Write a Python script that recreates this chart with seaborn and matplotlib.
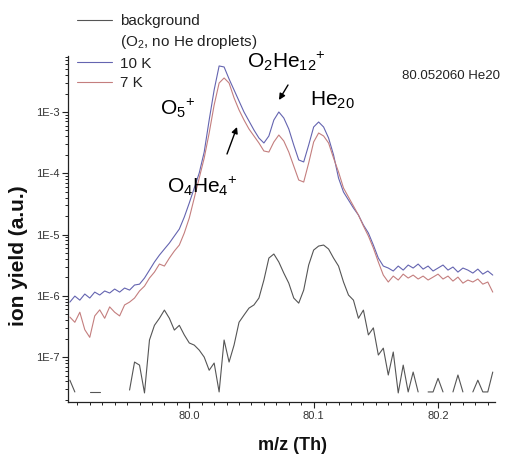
import numpy as np
import pandas as pd
import matplotlib
matplotlib.use("Agg")
import matplotlib.pyplot as plt
import matplotlib.patches as mpatches
import seaborn as sns
from matplotlib.ticker import FixedLocator, MultipleLocator, LogLocator, FuncFormatter, NullFormatter
from matplotlib.lines import Line2D

# ---------------- data ----------------
mz = np.round(np.arange(79.904, 80.2441, 0.004), 3)

yield_10K = [
    7.9e-7, 9.9e-7, 8.5e-7, 1.07e-6, 9.2e-7, 1.15e-6, 1.03e-6, 1.20e-6, 1.11e-6, 1.29e-6,
    1.15e-6, 1.34e-6, 1.24e-6, 1.50e-6, 1.55e-6, 1.95e-6, 2.63e-6, 3.56e-6, 4.62e-6, 5.80e-6,
    7.26e-6, 9.46e-6, 1.23e-5, 1.93e-5, 3.27e-5, 5.74e-5, 1.01e-4, 2.22e-4, 7.40e-4, 2.29e-3,
    5.64e-3, 5.43e-3, 3.46e-3, 2.29e-3, 1.51e-3, 1.00e-3, 7.13e-4, 5.08e-4, 3.76e-4, 3.12e-4,
    4.06e-4, 7.40e-4, 1.00e-3, 7.98e-4, 5.28e-4, 2.89e-4, 1.65e-4, 1.53e-4, 2.89e-4, 5.69e-4,
    6.87e-4, 5.69e-4, 3.76e-4, 1.99e-4, 8.36e-5, 4.94e-5, 3.66e-5, 2.71e-5, 2.08e-5, 1.43e-5,
    1.06e-5, 6.74e-6, 4.13e-6, 3.06e-6, 2.84e-6, 2.54e-6, 3.06e-6, 2.63e-6, 3.18e-6, 2.84e-6,
    3.30e-6, 2.73e-6, 3.06e-6, 2.54e-6, 2.84e-6, 3.18e-6, 2.63e-6, 2.95e-6, 2.44e-6, 2.84e-6,
    2.63e-6, 2.35e-6, 2.73e-6, 2.26e-6, 2.54e-6, 2.18e-6,
]

yield_7K = [
    4.5e-7, 3.7e-7, 5.4e-7, 2.8e-7, 2.1e-7, 4.7e-7, 5.9e-7, 4.3e-7, 6.6e-7, 5.4e-7,
    4.7e-7, 7.1e-7, 7.9e-7, 9.2e-7, 1.20e-6, 1.44e-6, 1.95e-6, 2.44e-6, 3.30e-6, 3.06e-6,
    4.13e-6, 5.38e-6, 6.74e-6, 1.06e-5, 1.86e-5, 3.94e-5, 8.36e-5, 1.77e-4, 4.54e-4, 1.30e-3,
    2.97e-3, 3.59e-3, 2.97e-3, 1.70e-3, 1.08e-3, 7.40e-4, 5.28e-4, 4.06e-4, 3.12e-4, 2.31e-4,
    2.22e-4, 3.24e-4, 4.21e-4, 3.36e-4, 2.22e-4, 1.31e-4, 7.76e-5, 7.19e-5, 1.47e-4, 3.24e-4,
    4.54e-4, 4.06e-4, 3.12e-4, 1.77e-4, 1.05e-4, 5.74e-5, 4.09e-5, 2.92e-5, 2.08e-5, 1.38e-5,
    9.46e-6, 6.02e-6, 3.56e-6, 2.18e-6, 1.68e-6, 2.10e-6, 1.81e-6, 2.26e-6, 1.95e-6, 2.18e-6,
    1.88e-6, 2.10e-6, 1.81e-6, 2.02e-6, 2.26e-6, 1.88e-6, 2.10e-6, 1.74e-6, 2.02e-6, 1.61e-6,
    1.81e-6, 1.68e-6, 1.88e-6, 1.55e-6, 1.68e-6, 1.15e-6,
]

nan = np.nan
yield_background = [
    4.2e-8, 2.7e-8, nan, nan, 2.7e-8, 2.7e-8, 2.7e-8, nan, nan, 2.7e-8,
    nan, nan, 2.9e-8, 8.3e-8, 7.4e-8, 2.6e-8, 1.9e-7, 3.3e-7, 4.3e-7, 5.85e-7,
    4.3e-7, 2.76e-7, 3.3e-7, 2.3e-7, 1.7e-7, 1.57e-7, 1.3e-7, 1.0e-7, 6.1e-8, 8.0e-8,
    2.7e-8, 1.9e-7, 8.3e-8, 1.57e-7, 3.7e-7, 4.85e-7, 6.3e-7, 7.1e-7, 9.2e-7, 1.81e-6,
    4.13e-6, 4.81e-6, 3.56e-6, 2.35e-6, 1.61e-6, 9.2e-7, 7.6e-7, 1.24e-6, 3.18e-6, 5.58e-6,
    6.49e-6, 6.74e-6, 5.80e-6, 4.13e-6, 3.06e-6, 1.68e-6, 1.03e-6, 8.5e-7, 4.3e-7, 5.85e-7,
    2.3e-7, 3.0e-7, 1.08e-7, 1.4e-7, 5.1e-8, 1.21e-7, 2.6e-8, 7.4e-8, 2.7e-8, 5.7e-8,
    2.7e-8, nan, 2.7e-8, 2.7e-8, 4.5e-8, 2.7e-8, nan, 2.7e-8, 5.1e-8, 2.7e-8,
    nan, 2.7e-8, 4.2e-8, 2.7e-8, 2.7e-8, 5.7e-8,
]

series_labels = ["background", "(O$_2$, no He droplets)", "10 K", "7 K"]
x_ticks = [80.0, 80.1, 80.2]

# ---------------- style ----------------
sns.set_style("ticks")
plt.rcParams['font.family'] = ['Liberation Sans', 'DejaVu Sans']
plt.rcParams['mathtext.fontset'] = 'custom'
plt.rcParams['mathtext.rm'] = 'Liberation Sans'
plt.rcParams['mathtext.it'] = 'Liberation Sans:italic'
plt.rcParams['mathtext.bf'] = 'Liberation Sans:bold'

W, H = 515, 457
fig = plt.figure(figsize=(W / 100, H / 100), dpi=100)
ax = fig.add_axes([68 / W, 1 - 402 / H, 427 / W, 346 / H])

df = pd.DataFrame({"mz": mz, "bg": yield_background, "k10": yield_10K, "k7": yield_7K})
# zero counts are missing on the log axis: split the background trace at the gaps
df["bg_run"] = np.cumsum(df["bg"].isna().to_numpy())

c_bg, c_10, c_7 = "#555555", "#6464b0", "#c47e7e"
sns.lineplot(data=df.dropna(subset=["bg"]), x="mz", y="bg", units="bg_run", ax=ax,
             color=c_bg, lw=0.8, estimator=None, sort=False)
h_bg = ax.lines[-1]
sns.lineplot(data=df, x="mz", y="k10", ax=ax, color=c_10, lw=0.8, estimator=None, sort=False)
h_10 = ax.lines[-1]
sns.lineplot(data=df, x="mz", y="k7", ax=ax, color=c_7, lw=0.8, estimator=None, sort=False)
h_7 = ax.lines[-1]

ax.set_yscale("log")
ax.set_xlim(79.9025, 80.2458)
ax.set_ylim(1.85e-8, 8.2e-3)

ax.xaxis.set_major_locator(FixedLocator(x_ticks))
ax.xaxis.set_minor_locator(MultipleLocator(0.01))
ax.xaxis.set_major_formatter(FuncFormatter(lambda v, p: f"{v:.1f}"))
ax.yaxis.set_major_locator(LogLocator(base=10))
ax.yaxis.set_minor_locator(LogLocator(base=10, subs=np.arange(2, 10)))
ax.yaxis.set_major_formatter(FuncFormatter(lambda v, p: f"1E{int(round(np.log10(v)))}"))
ax.yaxis.set_minor_formatter(NullFormatter())

ax.tick_params(which="major", direction="out", length=4.5, width=0.8, color="#222222",
               labelsize=8, labelcolor="#333333", pad=1.8)
ax.tick_params(which="minor", direction="out", length=2.4, width=0.7, color="#222222")
sns.despine(ax=ax)
for s in ["left", "bottom"]:
    ax.spines[s].set_color("#222222")
    ax.spines[s].set_linewidth(0.9)

ax.set_xlabel("m/z (Th)", fontsize=13, fontweight="bold", color="#111111")
ax.set_ylabel("ion yield (a.u.)", fontsize=15, fontweight="bold", color="#111111")
ax.xaxis.set_label_coords((292 - 68) / 427, -(437 - 402) / 346)
ax.yaxis.set_label_coords((28 - 68) / 427, (402 - 256) / 346)

# legend
handles = [h_bg, Line2D([], [], color="none"), h_10, h_7]
leg = ax.legend(handles, series_labels, loc="upper left", bbox_to_anchor=(77 / W, 1 - 14 / H),
                bbox_transform=fig.transFigure, frameon=False, fontsize=11,
                handlelength=2.3, handletextpad=0.5, labelspacing=0.35,
                borderpad=0, borderaxespad=0)
for t in leg.get_texts():
    t.set_color("#222222")

# annotations
def fx(px):
    return px / W

def fy(py):
    return 1 - py / H

ann_kw = dict(fontsize=15, color="black", ha="left", va="baseline")
fig.text(fx(160), fy(115), "O$_5{}^{+}$", **ann_kw)
fig.text(fx(247), fy(68), "O$_2$He$_{12}{}^{+}$", **ann_kw)
fig.text(fx(310), fy(106), "He$_{20}$", **ann_kw)
fig.text(fx(167), fy(193), "O$_4$He$_4{}^{+}$", **ann_kw)
fig.text(fx(402), fy(79), "80.052060 He20", fontsize=9.5, color="#222222", ha="left", va="baseline")

arrow_kw = dict(arrowstyle="-|>", color="black", lw=1.0, mutation_scale=9, shrinkA=0, shrinkB=0)
fig.add_artist(mpatches.FancyArrowPatch((fx(227), fy(154)), (fx(237), fy(127)),
                                        transform=fig.transFigure, **arrow_kw))
fig.add_artist(mpatches.FancyArrowPatch((fx(288), fy(85)), (fx(279), fy(100)),
                                        transform=fig.transFigure, **arrow_kw))

fig.savefig("out.png", dpi=100)
